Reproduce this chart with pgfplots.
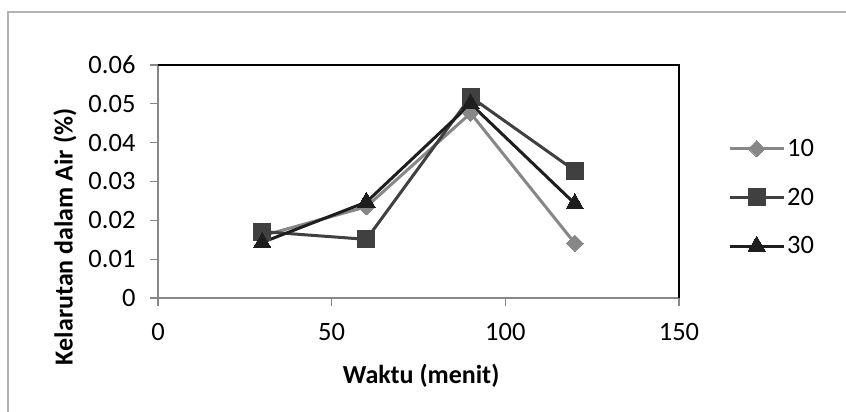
\documentclass[border=0pt]{standalone}
\usepackage{pgfplots}
\pgfplotsset{compat=1.18}
\usepackage{fontspec}
\setmainfont{Carlito}

\definecolor{sA}{HTML}{878787}
\definecolor{sB}{HTML}{404040}
\definecolor{sC}{HTML}{1E1E1E}
\definecolor{axgray}{HTML}{878787}
\definecolor{framegray}{HTML}{B4B4B4}

\begin{document}
\begin{tikzpicture}[x=1pt,y=1pt]
% chart frame (only top and left edges fall inside the page)
\draw[framegray, line width=1.2pt] (8,-10) -- (8,400) -- (860,400);
\begin{axis}[
  at={(158pt,114pt)}, anchor=south west,
  scale only axis, width=521pt, height=233pt,
  xmin=0, xmax=150, ymin=0, ymax=0.06,
  xtick={0,50,100,150},
  ytick={0,0.01,0.02,0.03,0.04,0.05,0.06},
  scaled y ticks=false,
  /pgf/number format/assume math mode=true,
  tick label style={font=\fontsize{26.5}{31}\selectfont, black},
  xtick pos=left, ytick pos=left,
  tick align=outside, major tick length=8pt,
  tick style={axgray, line width=1.2pt},
  axis line style={axgray, line width=1.5pt},
  xticklabel style={yshift=-14pt},
  yticklabel style={xshift=-11pt, /pgf/number format/.cd, fixed, precision=2},
  xlabel={\bfseries Waktu (menit)},
  ylabel={\bfseries Kelarutan dalam Air (\%)},
  label style={font=\fontsize{26}{31}\selectfont},
  xlabel style={at={(axis description cs:0.505,-0.335)}, anchor=center},
  ylabel style={at={(axis description cs:-0.1785,0.262)}, anchor=center},
  legend style={at={(axis description cs:1.094,0.432)}, anchor=west,
    draw=none, fill=none, font=\fontsize{26.5}{31}\selectfont,
    row sep=26pt, inner sep=0pt},
  legend cell align=left,
  legend image code/.code={\draw[mark repeat=2,mark phase=2,#1]
    plot coordinates {(0pt,0pt) (27pt,0pt) (54pt,0pt)};},
  every axis plot/.append style={line width=3pt, line join=round},
  clip=false,
]
\addplot[sA, mark=square*, mark size=5.8pt, mark options={rotate=45, line width=0pt, fill=sA}]
  coordinates {(30,0.0160) (60,0.0235) (90,0.0476) (120,0.0141)};
\addlegendentry{10}
\addplot[sB, mark=square*, mark size=8.5pt, mark options={line width=0pt, fill=sB}]
  coordinates {(30,0.0171) (60,0.0151) (90,0.0518) (120,0.0328)};
\addlegendentry{20}
\addplot[sC, mark=triangle*, mark size=10pt, mark options={line width=0pt, fill=sC}]
  coordinates {(30,0.0143) (60,0.0247) (90,0.0500) (120,0.0243)};
\addlegendentry{30}
% darker top and right borders of the plot area
\draw[black, line width=2pt] (rel axis cs:0,1) -- (rel axis cs:1,1) -- (rel axis cs:1,0);
\end{axis}
\pgfresetboundingbox
\useasboundingbox (0,0) rectangle (846,412);
\end{tikzpicture}
\end{document}
